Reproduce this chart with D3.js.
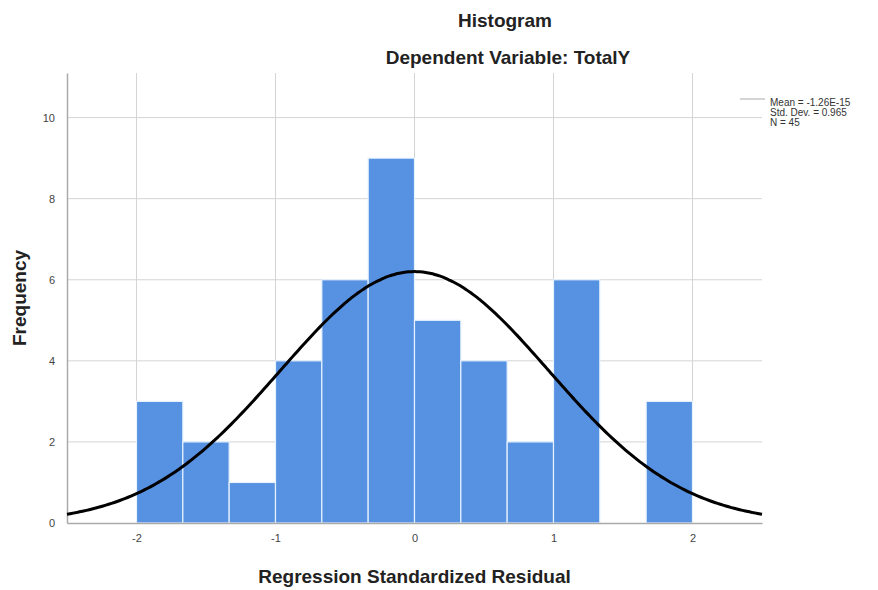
<!DOCTYPE html>
<html>
<head>
<meta charset="utf-8">
<script src="https://cdn.jsdelivr.net/npm/d3@7"></script>
<style>
  body { margin: 0; background: #fff; }
  text { font-family: "Liberation Sans", Arial, sans-serif; }
</style>
</head>
<body>
<svg id="hist"></svg>
<script>
// histogram bins: lower edges (width 1/3) and counts
const binStarts = [-2, -5/3, -4/3, -1, -2/3, -1/3, 0, 1/3, 2/3, 1, 4/3, 5/3];
const binWidth = 1 / 3;
const counts = [3, 2, 1, 4, 6, 9, 5, 4, 2, 6, 0, 3];
const xTicks = [-2, -1, 0, 1, 2];
const yTicks = [0, 2, 4, 6, 8, 10];
const stats = { mean: -1.26e-15, sd: 0.965, n: 45 };
const statLines = ["Mean = -1.26E-15", "Std. Dev. = 0.965", "N = 45"];

const svgWidth = 878, svgHeight = 590;
const margin = { top: 73, right: 116, bottom: 67, left: 67 };
const width = svgWidth - margin.left - margin.right;
const height = svgHeight - margin.top - margin.bottom;

const svg = d3.select('#hist')
    .attr("width", svgWidth)
    .attr("height", svgHeight);

const g = svg.append("g")
    .attr("transform", "translate(" + margin.left + "," + margin.top + ")");

const x = d3.scaleLinear().domain([-2.5, 2.5]).range([0, width]);
const y = d3.scaleLinear().domain([0, 11.1]).range([height, 0]);

// grid
g.append("g")
    .selectAll("line")
    .data(yTicks.filter(d => d > 0))
    .join("line")
    .attr("x1", 0).attr("x2", width)
    .attr("y1", d => y(d)).attr("y2", d => y(d))
    .attr("stroke", "#d4d4d4").attr("stroke-width", 1);

g.append("g")
    .selectAll("line")
    .data(xTicks)
    .join("line")
    .attr("x1", d => x(d)).attr("x2", d => x(d))
    .attr("y1", 0).attr("y2", height)
    .attr("stroke", "#d4d4d4").attr("stroke-width", 1);

// bars
g.append("g")
    .selectAll("rect")
    .data(binStarts.map((s, i) => ({ x0: s, x1: s + binWidth, count: counts[i] })).filter(d => d.count > 0))
    .join("rect")
    .attr("x", d => x(d.x0))
    .attr("width", d => x(d.x1) - x(d.x0))
    .attr("y", d => y(d.count))
    .attr("height", d => y(0) - y(d.count))
    .attr("fill", "#5791e1")
    .attr("stroke", "#e6f2ff")
    .attr("stroke-width", 1.2);

// axes
const xAxis = g.append("g")
    .attr("transform", "translate(0," + height + ")")
    .call(d3.axisBottom(x).tickValues(xTicks).tickSize(0).tickPadding(11).tickFormat(d => String(d)));
xAxis.select(".domain").attr("stroke", "#aaa").attr("stroke-width", 1.5);

const yAxis = g.append("g")
    .call(d3.axisLeft(y).tickValues(yTicks).tickSize(0).tickPadding(12).tickFormat(d => String(d)));
yAxis.select(".domain").attr("stroke", "#aaa").attr("stroke-width", 1.5);

svg.selectAll(".tick text").attr("font-size", 11).attr("fill", "#444")
    .style("font-family", "'Liberation Sans', Arial, sans-serif");

// normal curve
const scaleFactor = stats.n * binWidth;
const pts = d3.range(-2.5, 2.5001, 0.02).map(v => ({
    v: v,
    f: scaleFactor * Math.exp(-0.5 * Math.pow((v - stats.mean) / stats.sd, 2)) / (stats.sd * Math.sqrt(2 * Math.PI))
}));
const line = d3.line()
    .x(d => x(d.v))
    .y(d => y(d.f))
    .curve(d3.curveBasis);
g.append("path")
    .datum(pts)
    .attr("fill", "none")
    .attr("stroke", "#000")
    .attr("stroke-width", 3)
    .attr("d", line);

// titles
svg.append("text")
    .attr("x", 505).attr("y", 27)
    .attr("text-anchor", "middle")
    .attr("font-size", 19).attr("font-weight", "bold").attr("fill", "#222")
    .text("Histogram");
svg.append("text")
    .attr("x", 508).attr("y", 64)
    .attr("text-anchor", "middle")
    .attr("font-size", 19).attr("font-weight", "bold").attr("fill", "#222")
    .text("Dependent Variable: TotalY");
svg.append("text")
    .attr("transform", "translate(26," + (margin.top + height / 2) + ") rotate(-90)")
    .attr("text-anchor", "middle")
    .attr("font-size", 19).attr("font-weight", "bold").attr("fill", "#222")
    .text("Frequency");
svg.append("text")
    .attr("x", margin.left + x(0)).attr("y", 583)
    .attr("text-anchor", "middle")
    .attr("font-size", 19).attr("font-weight", "bold").attr("fill", "#222")
    .text("Regression Standardized Residual");

// stats legend
svg.append("line")
    .attr("x1", 740).attr("x2", 765).attr("y1", 99).attr("y2", 99)
    .attr("stroke", "#aaa").attr("stroke-width", 1);
svg.append("g")
    .selectAll("text")
    .data(statLines)
    .join("text")
    .attr("x", 770)
    .attr("y", (d, i) => 106 + i * 10)
    .attr("font-size", 10).attr("fill", "#333")
    .text(d => d);
</script>
</body>
</html>
